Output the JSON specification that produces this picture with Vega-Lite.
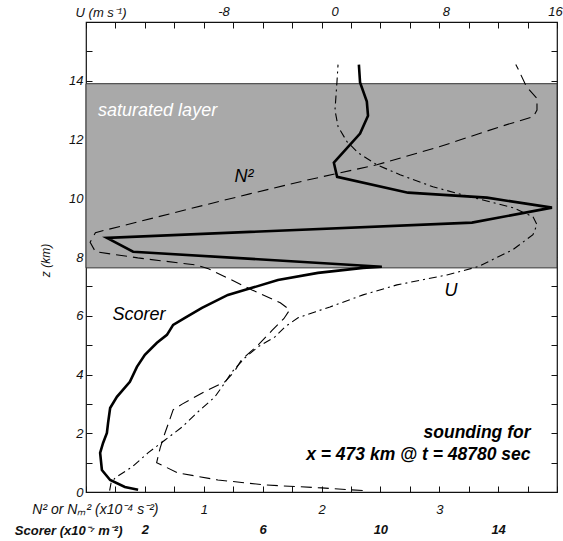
{
  "$schema": "https://vega.github.io/schema/vega-lite/v6.json",
  "width": 471,
  "height": 470,
  "autosize": {"type": "none"},
  "padding": {"left": 86, "top": 22, "right": 6, "bottom": 49},
  "config": {
    "font": "Liberation Sans",
    "view": {"stroke": "#111", "strokeWidth": 1.2},
    "axis": {
      "labelFont": "Liberation Sans", "labelFontStyle": "italic", "labelFontSize": 13, "labelColor": "#111",
      "titleFont": "Liberation Sans", "titleFontStyle": "italic", "titleFontWeight": "normal", "titleFontSize": 13, "titleColor": "#111",
      "tickColor": "#111", "tickWidth": 1, "grid": false, "domain": false, "labelFlush": false, "labelOverlap": false, "zindex": 1
    }
  },
  "resolve": {"scale": {"x": "independent", "y": "independent"}},
  "layer": [
    {
      "data": {"values": [{"zbot": 7.63, "ztop": 13.9}]},
      "mark": {"type": "rect", "fill": "#a9a9a9", "stroke": "#333", "strokeWidth": 1},
      "encoding": {
        "x": {"datum": 0, "type": "quantitative", "scale": {"domain": [0, 16], "nice": false},
          "axis": {"orient": "top", "values": [0,1,2,3,4,5,6,7,8,9,10,11,12,13,14,15,16], "labels": false, "tickSize": -6, "title": null}},
        "x2": {"datum": 16},
        "y": {"field": "zbot", "type": "quantitative", "scale": {"domain": [0, 16], "nice": false},
          "axis": {"orient": "right", "values": [0,1,2,3,4,5,6,7,8,9,10,11,12,13,14,15,16], "labels": false, "tickSize": -6, "title": null}},
        "y2": {"field": "ztop"}
      }
    },
    {
      "data": {"values": [
        {"s": 1.77, "z": 0.08}, {"s": 1.32, "z": 0.17}, {"s": 0.82, "z": 0.41}, {"s": 0.54, "z": 0.75},
        {"s": 0.48, "z": 1.33}, {"s": 0.58, "z": 1.67}, {"s": 0.71, "z": 2.01}, {"s": 0.75, "z": 2.35},
        {"s": 0.82, "z": 2.86}, {"s": 1.05, "z": 3.24}, {"s": 1.49, "z": 3.75}, {"s": 1.73, "z": 4.26},
        {"s": 2.0, "z": 4.67}, {"s": 2.41, "z": 5.08}, {"s": 2.75, "z": 5.35}, {"s": 2.96, "z": 5.69},
        {"s": 3.36, "z": 5.93}, {"s": 3.94, "z": 6.27}, {"s": 4.82, "z": 6.71}, {"s": 5.64, "z": 6.95},
        {"s": 6.52, "z": 7.22}, {"s": 7.88, "z": 7.46}, {"s": 9.41, "z": 7.63}, {"s": 10.05, "z": 7.67},
        {"s": 1.6, "z": 8.18}, {"s": 0.71, "z": 8.65}, {"s": 13.11, "z": 9.17}, {"s": 15.83, "z": 9.68},
        {"s": 13.62, "z": 10.02}, {"s": 10.94, "z": 10.19}, {"s": 8.53, "z": 10.73}, {"s": 8.42, "z": 11.21},
        {"s": 9.31, "z": 12.2}, {"s": 9.58, "z": 12.81}, {"s": 9.54, "z": 13.29}, {"s": 9.31, "z": 13.94},
        {"s": 9.27, "z": 14.55}
      ]},
      "mark": {"type": "line", "color": "#000", "strokeWidth": 2.6, "strokeJoin": "miter"},
      "encoding": {
        "x": {"field": "s", "type": "quantitative", "scale": {"domain": [0, 16], "nice": false},
          "axis": {"orient": "bottom", "values": [2, 6, 10, 14], "ticks": false, "labelFontWeight": "bold", "labelPadding": 31,
            "title": "Scorer (x10⁻⁷ m⁻²)", "titleFontWeight": "bold", "titleX": 36, "titleY": 42, "titleAlign": "right", "titleBaseline": "alphabetic", "titleAngle": 0}},
        "y": {"field": "z", "type": "quantitative", "scale": {"domain": [0, 16], "nice": false},
          "axis": {"orient": "left", "values": [0,1,2,3,4,5,6,7,8,9,10,11,12,13,14,15,16],
            "labelExpr": "datum.value % 2 == 0 && datum.value <= 14 ? datum.label : ''",
            "tickSize": -6, "labelPadding": 9, "title": "z (km)", "titleFontSize": 12, "titleX": -41, "titleY": 238, "titleBaseline": "middle", "titleAngle": 270}},
        "order": {"field": "z", "type": "quantitative"}
      }
    },
    {
      "data": {"values": [
        {"n": 2.35, "z": 0.05}, {"n": 2.0, "z": 0.14}, {"n": 1.52, "z": 0.24}, {"n": 1.12, "z": 0.41},
        {"n": 0.78, "z": 0.65}, {"n": 0.6, "z": 1.0}, {"n": 0.63, "z": 1.5}, {"n": 0.67, "z": 2.0},
        {"n": 0.71, "z": 2.45}, {"n": 0.74, "z": 2.8}, {"n": 0.82, "z": 3.0}, {"n": 1.0, "z": 3.4},
        {"n": 1.18, "z": 3.75}, {"n": 1.26, "z": 4.1}, {"n": 1.32, "z": 4.5}, {"n": 1.46, "z": 5.0},
        {"n": 1.58, "z": 5.5}, {"n": 1.68, "z": 5.9}, {"n": 1.73, "z": 6.2}, {"n": 1.65, "z": 6.44},
        {"n": 1.41, "z": 6.88}, {"n": 1.04, "z": 7.6}, {"n": 0.93, "z": 7.73}, {"n": 0.44, "z": 7.97},
        {"n": 0.08, "z": 8.18}, {"n": 0.035, "z": 8.5}, {"n": 0.08, "z": 8.83}, {"n": 0.88, "z": 9.64},
        {"n": 1.39, "z": 10.15}, {"n": 1.89, "z": 10.63}, {"n": 2.47, "z": 11.14}, {"n": 3.0, "z": 11.75},
        {"n": 3.52, "z": 12.44}, {"n": 3.8, "z": 12.78}, {"n": 3.83, "z": 13.0}, {"n": 3.83, "z": 13.4},
        {"n": 3.74, "z": 13.8}, {"n": 3.67, "z": 14.4}, {"n": 3.65, "z": 14.55}
      ]},
      "mark": {"type": "line", "color": "#000", "strokeWidth": 1.1, "strokeDash": [11, 6]},
      "encoding": {
        "x": {"field": "n", "type": "quantitative", "scale": {"domain": [0, 4], "nice": false},
          "axis": {"orient": "bottom", "values": [0,0.25,0.5,0.75,1,1.25,1.5,1.75,2,2.25,2.5,2.75,3,3.25,3.5,3.75,4],
            "labelExpr": "datum.value == 1 || datum.value == 2 || datum.value == 3 ? '' + datum.value : ''",
            "tickSize": -6, "labelPadding": 17,
            "title": "N² or Nₘ² (x10⁻⁴ s⁻²)", "titleFontSize": 14, "titleX": 72, "titleY": 21, "titleAlign": "right", "titleBaseline": "alphabetic", "titleAngle": 0}},
        "y": {"field": "z", "type": "quantitative", "scale": {"domain": [0, 16], "nice": false}, "axis": null},
        "order": {"field": "z", "type": "quantitative"}
      }
    },
    {
      "data": {"values": [
        {"u": -16.2, "z": 0.05}, {"u": -16.1, "z": 0.3}, {"u": -15.81, "z": 0.48}, {"u": -14.59, "z": 0.85},
        {"u": -13.44, "z": 1.33}, {"u": -12.21, "z": 1.77}, {"u": -10.99, "z": 2.21}, {"u": -9.84, "z": 2.73},
        {"u": -8.62, "z": 3.24}, {"u": -8.11, "z": 3.58}, {"u": -7.39, "z": 4.09}, {"u": -6.46, "z": 4.57},
        {"u": -5.52, "z": 4.94}, {"u": -4.3, "z": 5.28}, {"u": -3.58, "z": 5.62}, {"u": -2.64, "z": 5.93},
        {"u": -1.42, "z": 6.13}, {"u": -0.34, "z": 6.3}, {"u": 2.04, "z": 6.71}, {"u": 4.48, "z": 7.05},
        {"u": 8.08, "z": 7.39}, {"u": 10.31, "z": 7.67}, {"u": 12.83, "z": 8.25}, {"u": 14.27, "z": 8.76},
        {"u": 14.56, "z": 9.1}, {"u": 14.27, "z": 9.37}, {"u": 12.83, "z": 9.68}, {"u": 9.74, "z": 10.05},
        {"u": 7.07, "z": 10.39}, {"u": 4.7, "z": 10.8}, {"u": 3.04, "z": 11.14}, {"u": 1.68, "z": 11.55},
        {"u": 0.88, "z": 11.93}, {"u": 0.24, "z": 12.44}, {"u": 0.02, "z": 13.0}, {"u": 0.16, "z": 13.94},
        {"u": 0.24, "z": 14.55}
      ]},
      "mark": {"type": "line", "color": "#000", "strokeWidth": 1.1, "strokeDash": [8, 4, 2, 4]},
      "encoding": {
        "x": {"field": "u", "type": "quantitative", "scale": {"domain": [-17.9, 16], "nice": false, "zero": false},
          "axis": {"orient": "top", "values": [-8, 0, 8, 16], "ticks": false, "labelPadding": 4,
            "labelOffset": {"condition": {"test": "datum.value == 16", "value": -2}, "value": 0},
            "labelExpr": "datum.value < 0 ? '-' + abs(datum.value) : '' + datum.value",
            "title": "U (m s⁻¹)", "titleX": 40, "titleY": -6, "titleAlign": "right", "titleBaseline": "alphabetic", "titleAngle": 0}},
        "y": {"field": "z", "type": "quantitative", "scale": {"domain": [0, 16], "nice": false}, "axis": null},
        "order": {"field": "z", "type": "quantitative"}
      }
    },
    {
      "data": {"values": [{"s": 0.41, "z": 12.98, "label": "saturated layer"}]},
      "mark": {"type": "text", "color": "#fff", "fontStyle": "italic", "fontSize": 18, "align": "left", "baseline": "middle", "font": "Liberation Sans"},
      "encoding": {
        "x": {"field": "s", "type": "quantitative", "scale": {"domain": [0, 16], "nice": false}, "axis": null},
        "y": {"field": "z", "type": "quantitative", "scale": {"domain": [0, 16], "nice": false}, "axis": null},
        "text": {"field": "label"}
      }
    },
    {
      "data": {"values": [
        {"s": 5.37, "z": 10.73, "label": "N²"},
        {"s": 1.8, "z": 6.03, "label": "Scorer"},
        {"s": 12.4, "z": 6.85, "label": "U"}
      ]},
      "mark": {"type": "text", "color": "#000", "fontStyle": "italic", "fontSize": 18, "align": "center", "baseline": "middle", "font": "Liberation Sans"},
      "encoding": {
        "x": {"field": "s", "type": "quantitative", "scale": {"domain": [0, 16], "nice": false}, "axis": null},
        "y": {"field": "z", "type": "quantitative", "scale": {"domain": [0, 16], "nice": false}, "axis": null},
        "text": {"field": "label"}
      }
    },
    {
      "data": {"values": [
        {"s": 15.1, "z": 2.01, "label": "sounding for"},
        {"s": 15.1, "z": 1.26, "label": "x = 473 km @ t = 48780 sec"}
      ]},
      "mark": {"type": "text", "color": "#000", "fontStyle": "italic", "fontWeight": "bold", "fontSize": 17.5, "align": "right", "baseline": "middle", "font": "Liberation Sans"},
      "encoding": {
        "x": {"field": "s", "type": "quantitative", "scale": {"domain": [0, 16], "nice": false}, "axis": null},
        "y": {"field": "z", "type": "quantitative", "scale": {"domain": [0, 16], "nice": false}, "axis": null},
        "text": {"field": "label"}
      }
    }
  ]
}
